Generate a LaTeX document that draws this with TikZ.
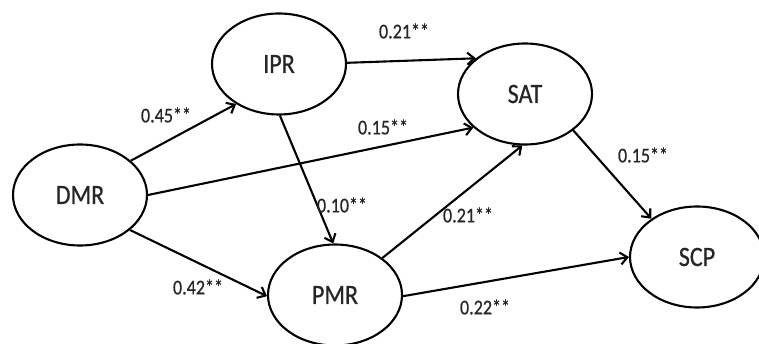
\documentclass[tikz,border=0pt]{standalone}
\usepackage{fontspec}
\setmainfont{Carlito}
\newfontfamily\condfont[FakeStretch=0.86,FakeBold=0.6]{Carlito}
\usetikzlibrary{shapes.geometric,arrows.meta}
\begin{document}
\begin{tikzpicture}[x=1pt,y=-1pt,
  latent/.style={draw=black,line width=2.1pt,ellipse,minimum width=134pt,minimum height=101pt,inner sep=0pt,font=\condfont\fontsize{28}{30}\selectfont,text=black!85},
  path/.style={draw=black,line width=2.1pt,-{Straight Barb[length=7pt,width=12pt,line width=2.1pt]}},
  coef/.style={font=\condfont\fontsize{21}{23}\selectfont,text=black!85,inner sep=0pt}]
\useasboundingbox (0,0) rectangle (759,344);
\node[latent] (IPR) at (279,64) {IPR};
\node[latent] (SAT) at (525,94) {SAT};
\node[latent] (DMR) at (80,195) {DMR};
\node[latent] (PMR) at (335,295) {PMR};
\node[latent] (SCP) at (697,257) {SCP};
\draw[path] (DMR.34) -- (IPR.223);
\draw[path] (IPR.1) -- (SAT.144);
\draw[path] (DMR.0) -- (SAT.213);
\draw[path] (IPR.271) -- (PMR.92);
\draw[path] (PMR.38) -- (SAT.267);
\draw[path] (SAT.-37) -- (SCP.140);
\draw[path] (PMR.-1) -- (SCP.180);
\draw[path] (DMR.-35) -- (PMR.181);
\node[coef] (c1) at (166,115) {0.45**};
\node[coef] (c2) at (404,31) {0.21**};
\node[coef] (c3) at (383,127) {0.15**};
\node[coef] (c4) at (342,205) {0.10**};
\node[coef] (c5) at (468,215) {0.21**};
\node[coef] (c6) at (643,155) {0.15**};
\node[coef] (c7) at (485,307) {0.22**};
\node[coef] (c8) at (198,287) {0.42**};
\end{tikzpicture}
\end{document}
